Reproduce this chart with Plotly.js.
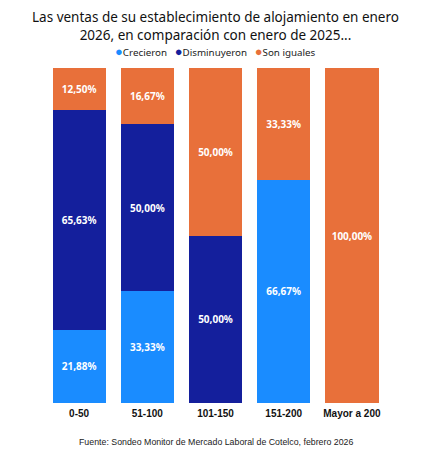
<!DOCTYPE html>
<html><head><meta charset="utf-8">
<script src="https://cdn.plot.ly/plotly-3.0.1.min.js"></script>
<style>html,body{margin:0;padding:0;background:#fff}#c{width:431px;height:470px}</style>
</head><body><div id="c"></div>
<script>
const categories = ['0-50','51-100','101-150','151-200','Mayor a 200'];
const crecieron = [21.88, 33.33, 0, 66.67, 0];
const disminuyeron = [65.63, 50.00, 50.00, 0, 0];
const iguales = [12.50, 16.67, 50.00, 33.33, 100.00];
const seriesNames = ['Crecieron','Disminuyeron','Son iguales'];
const colors = ['#1a8cff','#141f9c','#e8703a'];

const fmt = v => v > 0 ? v.toFixed(2).replace('.', ',') + '%' : '';
const data = [crecieron, disminuyeron, iguales].map((vals, i) => ({
  type: 'bar', x: categories, y: vals, name: seriesNames[i],
  marker: {color: colors[i]}, text: vals.map(fmt), textposition: 'inside',
  insidetextanchor: 'middle', textangle: 0,
  textfont: {color: '#fff', size: 10, family: 'Noto Sans', weight: 'bold'},
  hoverinfo: 'skip', showlegend: false
}));

const legendText = seriesNames.map((n, i) =>
  '<span style="color:' + colors[i] + ';font-size:13px">●</span>' + n).join('\u00a0\u00a0 ');

const layout = {
  width: 431, height: 470,
  margin: {l: 45, r: 45, t: 68, b: 67},
  barmode: 'stack', bargap: 0.22,
  paper_bgcolor: '#fff', plot_bgcolor: '#fff',
  showlegend: false,
  title: {text: 'Las ventas de su establecimiento de alojamiento en enero<br>2026, en comparación con enero de 2025...',
    font: {family: 'Noto Sans', size: 13.5, color: '#111'}, x: 0.5, xanchor: 'center',
    y: 0.953, yref: 'container', yanchor: 'middle'},
  xaxis: {showline: false, showgrid: false, zeroline: false, ticks: '', ticklabelstandoff: 3,
    tickfont: {family: 'Liberation Sans', size: 10, color: '#111', weight: 'bold'}},
  yaxis: {visible: false, range: [0, 100.02], fixedrange: true},
  annotations: [
    {text: legendText, xref: 'paper', yref: 'paper', x: 0.5, y: (403 - 51) / 335,
      xanchor: 'center', yanchor: 'middle', showarrow: false,
      font: {family: 'Noto Sans', size: 9.8, color: '#222'}},
    {text: 'Fuente: Sondeo Monitor de Mercado Laboral de Cotelco, febrero 2026',
      xref: 'paper', yref: 'paper', x: 0.5, y: (403 - 442) / 335, xanchor: 'center', yanchor: 'middle',
      showarrow: false, font: {family: 'Liberation Sans', size: 8.8, color: '#222'}}]
};
Plotly.newPlot('c', data, layout, {displayModeBar: false, staticPlot: true});
</script></body></html>
